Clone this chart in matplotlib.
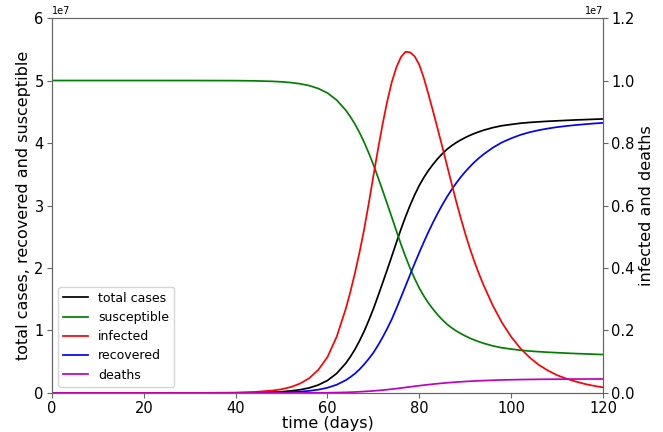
import matplotlib
matplotlib.use('Agg')
import matplotlib.pyplot as plt
import numpy as np

# values (days; left axis in 1e7, infected in 1e6, deaths in 1e7)
days = [0, 10, 20, 30, 40, 44, 48, 50, 52, 54, 56, 58, 60, 62,
        64, 65, 66, 67, 68, 69, 70, 71, 72, 73, 74, 75, 76, 77, 78, 79,
        80, 81, 82, 83, 84, 85, 86, 87, 88, 89, 90, 91, 92, 93, 94,
        96, 98, 100, 102, 104, 106, 108, 110, 112, 114, 116, 118, 120]
total_cases = [0, 0, 0, 0.0002, 0.002, 0.0055, 0.0134, 0.021, 0.033, 0.052, 0.081, 0.128,
               0.200, 0.313,
               0.477, 0.582, 0.700, 0.838, 0.990, 1.163, 1.347, 1.550, 1.759, 1.972, 2.187,
               2.406, 2.621, 2.820, 3.005, 3.172,
               3.323, 3.450, 3.562, 3.660, 3.750, 3.828, 3.898, 3.955, 4.005, 4.048, 4.087,
               4.122, 4.153, 4.180, 4.205,
               4.246, 4.277, 4.297, 4.316, 4.329, 4.339, 4.348, 4.355, 4.362, 4.369, 4.374,
               4.380, 4.385]
susceptible = [5.0, 5.0, 5.0, 4.9998, 4.998, 4.9945, 4.9866, 4.979, 4.967, 4.948, 4.919,
               4.872, 4.800, 4.687,
               4.523, 4.418, 4.300, 4.162, 4.010, 3.837, 3.653, 3.450, 3.241, 3.028, 2.813,
               2.594, 2.379, 2.180, 1.995, 1.828,
               1.677, 1.550, 1.438, 1.340, 1.250, 1.172, 1.102, 1.045, 0.995, 0.952, 0.913,
               0.878, 0.847, 0.820, 0.795,
               0.754, 0.723, 0.703, 0.684, 0.671, 0.661, 0.652, 0.645, 0.638, 0.631, 0.626,
               0.620, 0.615]
infected = [0, 0.0001, 0.0002, 0.0014, 0.013, 0.032, 0.078, 0.12, 0.19, 0.30, 0.47, 0.74,
            1.15, 1.80,
            2.70, 3.25, 3.85, 4.52, 5.25, 6.08, 6.95, 7.80, 8.60, 9.33, 9.95, 10.42, 10.75,
            10.92, 10.90, 10.77,
            10.50, 10.07, 9.55, 9.01, 8.45, 7.88, 7.30, 6.72, 6.15, 5.61, 5.10, 4.63, 4.20,
            3.81, 3.45,
            2.80, 2.25, 1.80, 1.43, 1.14, 0.90, 0.72, 0.57, 0.46, 0.37, 0.29, 0.23, 0.18]
recovered = [0, 0, 0, 0.0001, 0.001, 0.0023, 0.0056, 0.0086, 0.0137, 0.0216, 0.034, 0.053,
             0.084, 0.132,
             0.205, 0.255, 0.312, 0.380, 0.460, 0.548, 0.645, 0.762, 0.890, 1.030, 1.180,
             1.352, 1.530, 1.712, 1.895, 2.075,
             2.250, 2.418, 2.580, 2.732, 2.875, 3.010, 3.135, 3.250, 3.355, 3.452, 3.540,
             3.620, 3.695, 3.760, 3.820,
             3.925, 4.010, 4.075, 4.130, 4.172, 4.205, 4.232, 4.254, 4.272, 4.287, 4.300,
             4.312, 4.322]
deaths = [0, 0, 0, 0, 0, 0, 0.0001, 0.0001, 0.0001, 0.0002, 0.0004, 0.0006, 0.0009, 0.0014,
          0.0021, 0.0026, 0.0032, 0.0040, 0.0048, 0.0057, 0.0067, 0.0079, 0.0093, 0.0107,
          0.0123, 0.0141, 0.0159, 0.0178, 0.0197, 0.0216,
          0.0234, 0.0251, 0.0268, 0.0284, 0.0299, 0.0313, 0.0326, 0.0338, 0.0349, 0.0359,
          0.0368, 0.0376, 0.0384, 0.0391, 0.0397,
          0.0408, 0.0417, 0.0424, 0.0430, 0.0434, 0.0437, 0.0440, 0.0442, 0.0444, 0.0446,
          0.0447, 0.0448, 0.0449]

d = np.array(days)
T = np.array(total_cases) * 1e7
S = np.array(susceptible) * 1e7
I = np.array(infected) * 1e6
R = np.array(recovered) * 1e7
D = np.array(deaths) * 1e7

fig = plt.figure(figsize=(6.63, 4.32), dpi=100)
ax1 = fig.add_axes([0.0784, 0.0903, 0.8311, 0.868])
ax2 = ax1.twinx()

l1, = ax1.plot(d, T, color='k', lw=1.25, label='total cases')
l2, = ax1.plot(d, S, color='g', lw=1.25, label='susceptible')
l4, = ax1.plot(d, R, color='b', lw=1.25, label='recovered')
l3, = ax2.plot(d, I, color='r', lw=1.25, label='infected')
l5, = ax2.plot(d, D, color='m', lw=1.25, label='deaths')

ax1.set_xlim(0, 120)
ax1.set_ylim(0, 6e7)
ax2.set_ylim(0, 1.2e7)
ax1.set_xticks([0, 20, 40, 60, 80, 100, 120])
ax1.set_yticks([0, 1e7, 2e7, 3e7, 4e7, 5e7, 6e7])
ax2.set_yticks([0, 0.2e7, 0.4e7, 0.6e7, 0.8e7, 1.0e7, 1.2e7])

ax1.set_xlabel('time (days)', fontsize=11.5, labelpad=0)
ax1.set_ylabel('total cases, recovered and susceptible', fontsize=11.5, labelpad=2)
ax2.set_ylabel('infected and deaths', fontsize=11.5, labelpad=3)

for ax in (ax1, ax2):
    ax.tick_params(labelsize=10.5, color='0.4', pad=2.5)
    ax.yaxis.get_offset_text().set_fontsize(7)
    for s in ax.spines.values():
        s.set_color('0.4')
        s.set_linewidth(0.8)

ax2.legend(handles=[l1, l2, l3, l4, l5], loc='lower left', fontsize=9)

plt.savefig('out.png', dpi=100)
